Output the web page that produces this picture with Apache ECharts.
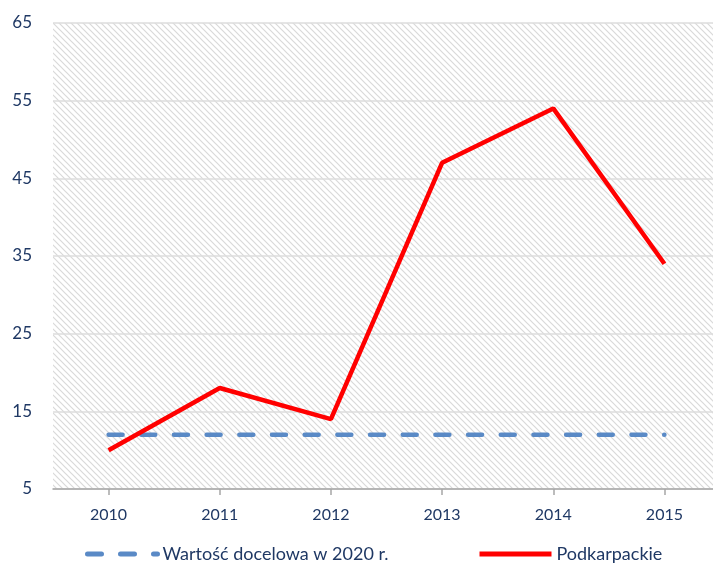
<!DOCTYPE html>
<html>
<head>
<meta charset="utf-8">
<script src="https://cdn.jsdelivr.net/npm/echarts@6/dist/echarts.min.js"></script>
<style>
  html, body { margin: 0; padding: 0; background: #fff; }
  #chart { width: 713px; height: 567px; }
</style>
</head>
<body>
<div id="chart"></div>
<script>
const years = ["2010", "2011", "2012", "2013", "2014", "2015"];
const targetName = "Wartość docelowa w 2020 r.";
const targetValues = [12, 12, 12, 12, 12, 12];
const regionName = "Podkarpackie";
const regionValues = [10, 18, 14, 47, 54, 34];

const textColor = "#1F3864";
const fontFamily = "Lato, 'Open Sans', sans-serif";

// diagonal hatch for the plot background
function makeHatch() {
  const c = document.createElement("canvas");
  c.width = 6;
  c.height = 6;
  const ctx = c.getContext("2d");
  ctx.fillStyle = "#ffffff";
  ctx.fillRect(0, 0, 6, 6);
  ctx.strokeStyle = "#d9d9d9";
  ctx.lineWidth = 1.2;
  ctx.beginPath();
  ctx.moveTo(-1, -1); ctx.lineTo(7, 7);
  ctx.moveTo(-4, 2); ctx.lineTo(4, 10);
  ctx.moveTo(2, -4); ctx.lineTo(10, 4);
  ctx.stroke();
  return c;
}

const chart = echarts.init(document.getElementById("chart"));

const legendText = { color: textColor, fontSize: 18, fontFamily: fontFamily };

const option = {
  animation: false,
  textStyle: { fontFamily: fontFamily },
  grid: {
    left: 53,
    top: 23,
    width: 667,
    bottom: 78,
    show: true,
    borderWidth: 0,
    outerBoundsMode: "none",
    containLabel: false,
    backgroundColor: { image: makeHatch(), repeat: "repeat" },
  },
  legend: [
    {
      data: [targetName],
      left: 80,
      top: 540,
      itemWidth: 70,
      itemHeight: 14,
      itemGap: 6,
      itemStyle: { opacity: 0 },
      lineStyle: { color: "#5A8AC6", width: 5, type: [14, 19], cap: "round" },
      textStyle: legendText,
    },
    {
      data: [regionName],
      left: 472,
      top: 540,
      itemWidth: 72,
      itemHeight: 14,
      itemStyle: { opacity: 0 },
      lineStyle: { color: "#FF0000", width: 5 },
      textStyle: legendText,
    },
  ],
  xAxis: {
    type: "category",
    data: years,
    boundaryGap: true,
    axisLine: { lineStyle: { color: "#a6a6a6", width: 1.5 } },
    axisTick: { show: true, alignWithLabel: true, length: 6, lineStyle: { color: "#a6a6a6", width: 1.5 } },
    axisLabel: { color: textColor, fontSize: 16, margin: 18 },
    splitLine: { show: false },
  },
  yAxis: {
    type: "value",
    min: 5,
    max: 65,
    interval: 10,
    axisLine: { show: false },
    axisTick: { show: false },
    axisLabel: { color: textColor, fontSize: 17, margin: 21 },
    splitLine: { lineStyle: { color: "#dcdcdc", width: 1.5 } },
  },
  series: [
    {
      name: targetName,
      type: "line",
      data: targetValues,
      symbol: "none",
      color: "#5A8AC6",
      lineStyle: { color: "#5A8AC6", width: 4.5, type: [14, 18.68], cap: "round" },
      z: 2,
    },
    {
      name: regionName,
      type: "line",
      data: regionValues,
      symbol: "none",
      color: "#FF0000",
      lineStyle: { color: "#FF0000", width: 4.5 },
      z: 3,
    },
  ],
};

chart.setOption(option);
</script>
</body>
</html>
